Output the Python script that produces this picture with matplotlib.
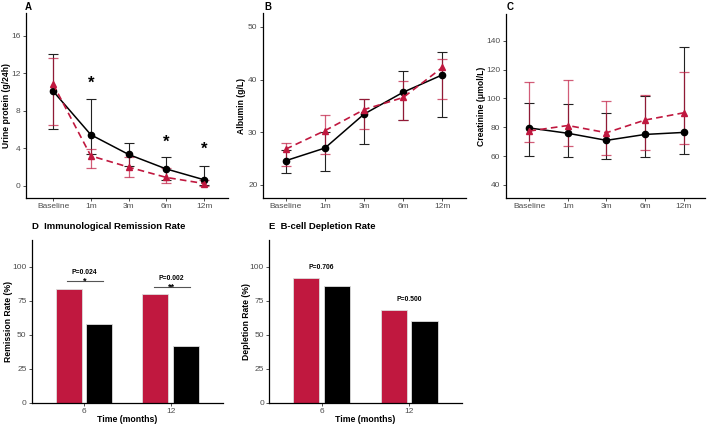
import matplotlib.pyplot as plt
import numpy as np

plt.rcParams['font.family'] = ['Liberation Sans', 'DejaVu Sans']

visits = ['Baseline', '1m', '3m', '6m', '12m']

# panel A: urine protein (g/24h)
prot_blk = [10.1, 5.45, 3.35, 1.8, 0.65]
prot_blk_lo = [6.05, 3.4, 2.1, 0.6, 0.1]
prot_blk_hi = [14.0, 9.3, 4.6, 3.1, 2.1]
prot_red = [10.85, 3.2, 2.0, 0.9, 0.25]
prot_red_lo = [6.5, 1.9, 0.9, 0.35, 0.0]
prot_red_hi = [13.6, 3.9, 3.1, 1.9, 0.6]
prot_star = [None, 10.9, None, 4.7, 3.85]

# panel B: albumin (g/L)
alb_blk = [24.6, 27.0, 33.45, 37.6, 40.9]
alb_blk_lo = [22.3, 22.7, 27.7, 32.4, 32.9]
alb_blk_hi = [26.6, 30.0, 36.4, 41.7, 45.2]
alb_red = [26.8, 30.3, 34.3, 36.6, 42.3]
alb_red_lo = [23.5, 25.8, 30.7, 32.4, 36.4]
alb_red_hi = [28.0, 33.2, 36.4, 39.7, 43.9]

# panel C: creatinine (umol/L)
cre_blk = [79.5, 75.8, 70.9, 75.0, 76.4]
cre_blk_lo = [60.0, 59.4, 57.8, 59.6, 61.2]
cre_blk_hi = [96.5, 96.0, 89.8, 101.5, 136.0]
cre_red = [77.4, 81.2, 76.2, 85.0, 90.0]
cre_red_lo = [70.0, 67.0, 60.7, 64.0, 68.1]
cre_red_hi = [111.2, 113.0, 98.0, 102.2, 118.1]

# panels D / E: rates (%)
months = ['6', '12']
remis_red = [84, 80]
remis_blk = [58, 42]
remis_p = ['P=0.024', 'P=0.002']
remis_sig = ['*', '**']
depl_red = [92, 68]
depl_blk = [86, 60]
depl_p = ['P=0.706', 'P=0.500']

RED = '#C0183F'
GREY = '#4D4D4D'


def style(ax, labx):
    for s in ['top', 'right']:
        ax.spines[s].set_visible(False)
    for s in ['left', 'bottom']:
        ax.spines[s].set_linewidth(0.9)
    ax.tick_params(labelsize=6.0, labelcolor=GREY, color='#333333',
                   length=2.5, width=0.6, pad=1.2)
    ax.yaxis.set_label_coords(labx, 0.5)


def line_panel(ax, blk, blo, bhi, red, rlo, rhi, ylab, ylim, yticks, xlim, labx):
    x = np.arange(1, 6)
    b = np.array(blk)
    r = np.array(red)
    ax.errorbar(x, b, yerr=[b - np.array(blo), np.array(bhi) - b], fmt='none',
                ecolor='#222222', elinewidth=0.8, capsize=3.6, capthick=0.8)
    ax.errorbar(x, r, yerr=[r - np.array(rlo), np.array(rhi) - r], fmt='none',
                ecolor=RED, alpha=0.7, elinewidth=0.9, capsize=3.6, capthick=0.9)
    ax.plot(x, b, '-o', color='black', lw=1.1, ms=4.5, zorder=3)
    ax.plot(x, r, '--^', color=RED, lw=1.2, ms=5, dashes=(4, 2.5), zorder=4)
    ax.set_xticks(x)
    ax.set_xticklabels(visits)
    ax.set_yticks(yticks)
    ax.set_xlim(*xlim)
    ax.set_ylim(*ylim)
    ax.set_ylabel(ylab, fontsize=6.2, fontweight='bold')
    style(ax, labx)


fig = plt.figure(figsize=(7.08, 4.26), dpi=100)

axA = fig.add_axes([0.0365, 0.535, 0.2855, 0.434])
line_panel(axA, prot_blk, prot_blk_lo, prot_blk_hi, prot_red, prot_red_lo, prot_red_hi,
           'Urine protein (g/24h)', (-1.3, 18.4), [0, 4, 8, 12, 16], (0.28, 5.63), -0.071)
for i, s in enumerate(prot_star):
    if s is not None:
        axA.text(i + 1, s, '*', ha='center', va='center', fontsize=12, fontweight='bold')

axB = fig.add_axes([0.371, 0.535, 0.287, 0.434])
line_panel(axB, alb_blk, alb_blk_lo, alb_blk_hi, alb_red, alb_red_lo, alb_red_hi,
           'Albumin (g/L)', (17.5, 52.6), [20, 30, 40, 50], (0.41, 5.6), -0.082)

axC = fig.add_axes([0.714, 0.535, 0.282, 0.432])
line_panel(axC, cre_blk, cre_blk_lo, cre_blk_hi, cre_red, cre_red_lo, cre_red_hi,
           'Creatinine (μmol/L)', (30.8, 158.6), [40, 60, 80, 100, 120, 140], (0.38, 5.56), -0.097)

for lab, xf in [('A', 25), ('B', 264), ('C', 507)]:
    fig.text(xf / 708, 1 - 7 / 426, lab, fontsize=7, fontweight='bold', va='center')


def bar_panel(ax, red, blk, ylab, title, labx):
    x = np.arange(1, 3)
    ax.bar(x - 0.175, red, width=0.3, color=RED, edgecolor='#dddddd', lw=0.6)
    ax.bar(x + 0.175, blk, width=0.3, color='black', edgecolor='#dddddd', lw=0.6)
    ax.set_xticks(x)
    ax.set_xticklabels(months)
    ax.set_xlim(0.4, 2.6)
    ax.set_ylim(0, 120)
    ax.set_yticks([0, 25, 50, 75, 100])
    ax.set_ylabel(ylab, fontsize=6.2, fontweight='bold')
    ax.set_xlabel('Time (months)', fontsize=6.3, fontweight='bold')
    ax.xaxis.set_label_coords(0.5, -0.078)
    ax.set_title(title, fontsize=6.8, fontweight='bold', loc='left', x=0.0, pad=8)
    style(ax, labx)


axD = fig.add_axes([0.0448, 0.0547, 0.2698, 0.3823])
bar_panel(axD, remis_red, remis_blk, 'Remission Rate (%)', 'D  Immunological Remission Rate', -0.1)
for i, (p, s, yl) in enumerate(zip(remis_p, remis_sig, [89.4, 85.0])):
    axD.plot([i + 1 - 0.19, i + 1 + 0.22], [yl, yl], color='#555555', lw=0.8)
    axD.text(i + 1 + 0.01, yl - 1.8, s, ha='center', va='baseline', fontsize=6.5, fontweight='bold')
    axD.text(i + 1 + 0.01, yl + 6.4, p, ha='center', va='center', fontsize=4.9, fontweight='bold')

axE = fig.add_axes([0.380, 0.0547, 0.272, 0.3823])
bar_panel(axE, depl_red, depl_blk, 'Depletion Rate (%)', 'E  B-cell Depletion Rate', -0.093)
for i, (p, yl) in enumerate(zip(depl_p, [99.8, 75.7])):
    axE.text(i + 1, yl, p, ha='center', va='center', fontsize=4.9, fontweight='bold')

fig.savefig('out.png', dpi=100)
